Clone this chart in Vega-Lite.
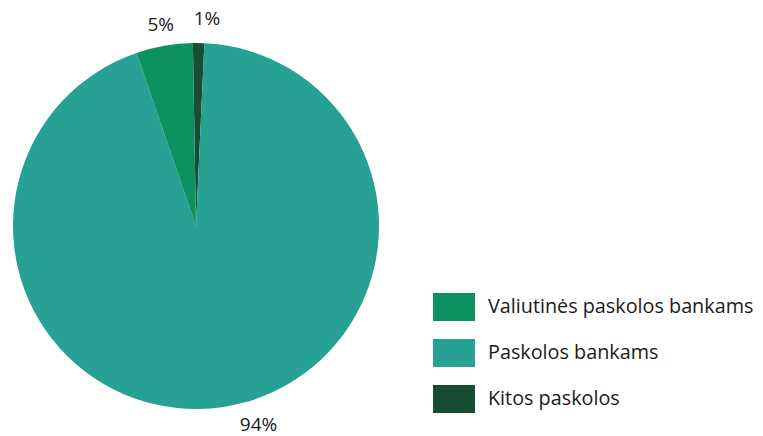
{
  "$schema": "https://vega.github.io/schema/vega-lite/v6.json",
  "width": 392,
  "height": 420,
  "autosize": {"type": "none"},
  "padding": {"left": 0, "top": 16, "right": 371, "bottom": 0},
  "background": "white",
  "config": {"view": {"stroke": null}},
  "data": {
    "values": [
      {"cat": "Kitos paskolos", "value": 1, "ord": 1, "label": "1%"},
      {"cat": "Paskolos bankams", "value": 94, "ord": 2, "label": "94%"},
      {"cat": "Valiutinės paskolos bankams", "value": 5, "ord": 3, "label": "5%"}
    ]
  },
  "encoding": {
    "theta": {"field": "value", "type": "quantitative", "stack": true, "scale": {"range": [-0.017, 6.2662]}},
    "order": {"field": "ord", "type": "quantitative"}
  },
  "layer": [
    {
      "mark": {"type": "arc", "outerRadius": 183, "stroke": null},
      "encoding": {
        "color": {
          "field": "cat",
          "type": "nominal",
          "scale": {
            "domain": ["Valiutinės paskolos bankams", "Paskolos bankams", "Kitos paskolos"],
            "range": ["#0d9160", "#27a193", "#174d33"]
          },
          "legend": {
            "orient": "none",
            "legendX": 433,
            "legendY": 270,
            "title": null,
            "padding": 0,
            "symbolType": "M-1,-0.6667H1V0.6667H-1Z",
            "symbolSize": 1764,
            "symbolStrokeWidth": 0,
            "symbolOpacity": 1,
            "labelFont": "Open Sans",
            "labelFontSize": 19.8,
            "labelColor": "#1a1a1a",
            "labelOffset": 13,
            "rowPadding": 10,
            "labelLimit": 400
          }
        }
      }
    },
    {
      "mark": {"type": "text", "radius": 204, "font": "Open Sans", "fontSize": 19, "color": "#1a1a1a", "baseline": "middle", "align": "center"},
      "encoding": {"text": {"condition": {"test": "datum.ord == 3", "field": "label"}, "value": ""}}
    },
    {
      "mark": {"type": "text", "radius": 207, "dx": 8, "font": "Open Sans", "fontSize": 19, "color": "#1a1a1a", "baseline": "middle", "align": "center"},
      "encoding": {"text": {"condition": {"test": "datum.ord == 1", "field": "label"}, "value": ""}}
    },
    {
      "mark": {"type": "text", "radius": 201, "dx": 34, "font": "Open Sans", "fontSize": 19, "color": "#1a1a1a", "baseline": "middle", "align": "center"},
      "encoding": {"text": {"condition": {"test": "datum.ord == 2", "field": "label"}, "value": ""}}
    }
  ]
}
